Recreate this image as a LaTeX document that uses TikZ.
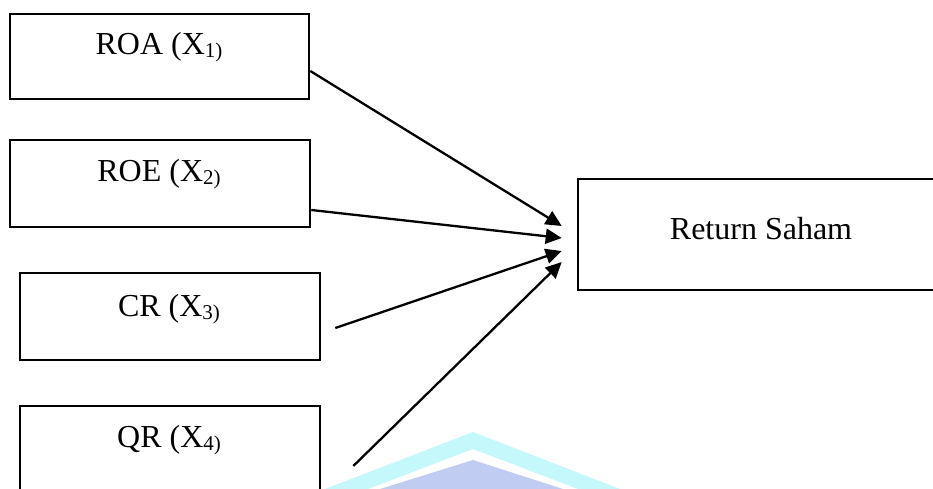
\documentclass[tikz,border=0pt]{standalone}
\usepackage{fontspec}
\setmainfont{Liberation Serif}
\usetikzlibrary{arrows.meta}
\newcommand{\subx}[1]{\raisebox{-3pt}{\fontsize{21}{21}\selectfont #1}}
\tikzset{
  box/.style={draw=black, line width=2.6pt, fill=white, inner sep=0pt},
  lbl/.style={anchor=base, inner sep=0pt, font=\fontsize{32}{34}\selectfont},
  conn/.style={draw=black, line width=2.3pt, -{Triangle[length=16pt,width=15pt]}},
}
\begin{document}
\begin{tikzpicture}[x=1pt,y=-1pt]
\useasboundingbox (0,0) rectangle (933,489);
\clip (0,0) rectangle (933,489);
% watermark
\fill[fill={rgb,255:red,196;green,248;blue,250}] (325,489) -- (473,432) -- (620,489) -- (578,489) -- (473,449) -- (368,489) -- cycle;
\fill[fill={rgb,255:red,192;green,204;blue,242}] (380,489) -- (473,460) -- (563,489) -- cycle;
% boxes
\node[box, minimum width=299pt, minimum height=85pt] (roa) at (159.5,56.5) {};
\node[box, minimum width=300pt, minimum height=87pt] (roe) at (160,183.5) {};
\node[box, minimum width=300pt, minimum height=87pt] (cr) at (170,316.5) {};
\node[box, minimum width=300pt, minimum height=104pt] (qr) at (170,458) {};
\node[box, minimum width=364pt, minimum height=111pt] (rs) at (760,234.5) {};
% texts
\node[lbl] (troa) at (159,55) {ROA (X\subx{1)}};
\node[lbl] (troe) at (159,181) {ROE (X\subx{2)}};
\node[lbl] (tcr) at (169,316) {CR (X\subx{3)}};
\node[lbl] (tqr) at (169,447) {QR (X\subx{4)}};
\node[lbl] (trs) at (761,239) {Return Saham};
% connectors
\draw[conn] ([yshift=-14.5pt]roa.east) -- ([xshift=-15pt,yshift=8.5pt]rs.west);
\draw[conn] ([yshift=-26.5pt]roe.east) -- ([xshift=-15pt,yshift=-3.5pt]rs.west);
\draw[conn] ([xshift=14pt,yshift=-11.5pt]cr.east) -- ([xshift=-15pt,yshift=-16.5pt]rs.west);
\draw[conn] ([xshift=32pt,yshift=-8pt]qr.east) -- ([xshift=-15pt,yshift=-27.5pt]rs.west);
\end{tikzpicture}
\end{document}
